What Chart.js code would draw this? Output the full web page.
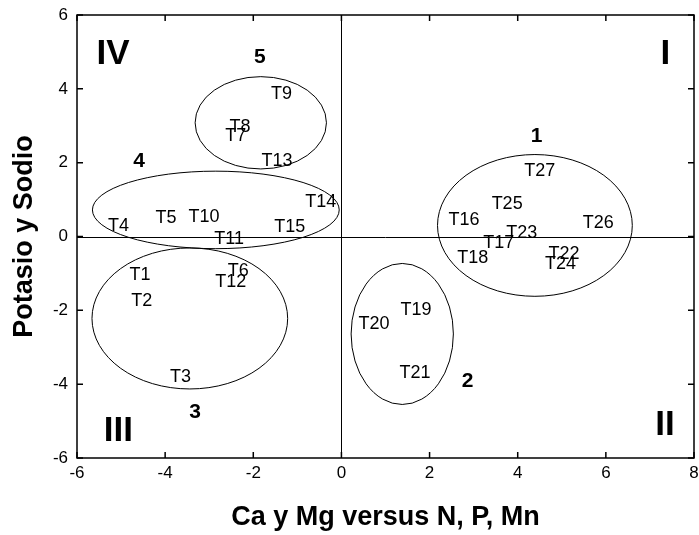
<!DOCTYPE html>
<html>
<head>
<meta charset="utf-8">
<script src="https://cdn.jsdelivr.net/npm/chart.js@4/dist/chart.umd.min.js"></script>
<style>
  html, body { margin: 0; padding: 0; background: #fff; }
  #wrap { width: 699px; height: 535px; }
</style>
</head>
<body>
<div id="wrap"><canvas id="grafico" width="699" height="535"></canvas></div>
<script>
// tratamientos (scores sobre los dos componentes)
const tratamientos = ["T1", "T2", "T3", "T4", "T5", "T6", "T7", "T8", "T9", "T10",
    "T11", "T12", "T13", "T14", "T15", "T16", "T17", "T18", "T19", "T20",
    "T21", "T22", "T23", "T24", "T25", "T26", "T27"];
const valoresX = [-4.57, -4.53, -3.65, -5.06, -3.98, -2.34, -2.40, -2.30, -1.36, -3.12,
    -2.55, -2.51, -1.46, -0.47, -1.17, 2.78, 3.57, 2.98, 1.69, 0.74,
    1.67, 5.05, 4.09, 4.97, 3.76, 5.83, 4.50];
const valoresY = [-1.01, -1.73, -3.79, 0.32, 0.52, -0.90, 2.74, 2.98, 3.88, 0.55,
    -0.04, -1.21, 2.08, 0.95, 0.28, 0.48, -0.15, -0.56, -1.96, -2.35,
    -3.68, -0.45, 0.12, -0.71, 0.91, 0.39, 1.79];

// grupos: centro y semiejes de cada elipse
const grupos = ["1", "2", "3", "4", "5"];
const grupoCentroX = [4.39, 1.38, -3.44, -2.85, -1.83];
const grupoCentroY = [0.30, -2.64, -2.22, 0.72, 3.08];
const grupoRadioX = [2.21, 1.16, 2.22, 2.80, 1.49];
const grupoRadioY = [1.92, 1.91, 1.91, 1.05, 1.25];
const grupoEtiquetaX = [4.43, 2.86, -3.32, -4.59, -1.85];
const grupoEtiquetaY = [2.74, -3.88, -4.74, 2.06, 4.88];

// cuadrantes
const cuadrantes = ["I", "II", "III", "IV"];
const cuadranteX = [7.35, 7.34, -5.06, -5.18];
const cuadranteY = [5.0, -5.07, -5.23, 5.0];

const ticksX = [-6, -4, -2, 0, 2, 4, 6, 8];
const ticksY = [-6, -4, -2, 0, 2, 4, 6];

const puntos = tratamientos.map((t, i) => ({ x: valoresX[i], y: valoresY[i] }));

const dibujoPlugin = {
    id: "dibujo",
    afterDatasetsDraw(chart) {
        const { ctx, chartArea: a, scales } = chart;
        const sx = scales.x, sy = scales.y;
        ctx.save();

        // ejes cero
        ctx.strokeStyle = "#000";
        ctx.lineWidth = 1;
        ctx.beginPath();
        const x0 = Math.round(sx.getPixelForValue(0)) + 0.5;
        const y0 = Math.round(sy.getPixelForValue(0)) + 0.5;
        ctx.moveTo(x0, a.top); ctx.lineTo(x0, a.bottom);
        ctx.moveTo(a.left, y0); ctx.lineTo(a.right, y0);
        ctx.stroke();

        // marco y marcas hacia dentro
        ctx.lineWidth = 1.5;
        ctx.strokeRect(a.left, a.top, a.right - a.left, a.bottom - a.top);
        ctx.beginPath();
        ticksX.forEach((v) => {
            const px = sx.getPixelForValue(v);
            ctx.moveTo(px, a.bottom); ctx.lineTo(px, a.bottom - 6);
            ctx.moveTo(px, a.top); ctx.lineTo(px, a.top + 6);
        });
        ticksY.forEach((v) => {
            const py = sy.getPixelForValue(v);
            ctx.moveTo(a.left, py); ctx.lineTo(a.left + 6, py);
            ctx.moveTo(a.right, py); ctx.lineTo(a.right - 6, py);
        });
        ctx.stroke();

        // elipses
        ctx.lineWidth = 1;
        grupos.forEach((g, i) => {
            const cx = sx.getPixelForValue(grupoCentroX[i]);
            const cy = sy.getPixelForValue(grupoCentroY[i]);
            const rx = Math.abs(sx.getPixelForValue(grupoCentroX[i] + grupoRadioX[i]) - cx);
            const ry = Math.abs(sy.getPixelForValue(grupoCentroY[i] + grupoRadioY[i]) - cy);
            ctx.beginPath();
            ctx.ellipse(cx, cy, rx, ry, 0, 0, Math.PI * 2);
            ctx.stroke();
        });

        ctx.fillStyle = "#000";
        ctx.textAlign = "center";
        ctx.textBaseline = "middle";

        // etiquetas de tratamientos
        ctx.font = "18px 'Liberation Sans', Arial, sans-serif";
        const meta = chart.getDatasetMeta(0);
        meta.data.forEach((el, i) => {
            ctx.fillText(tratamientos[i], el.x, el.y + 1);
        });

        // numeros de grupo
        ctx.font = "bold 21px 'Liberation Sans', Arial, sans-serif";
        grupos.forEach((g, i) => {
            ctx.fillText(g, sx.getPixelForValue(grupoEtiquetaX[i]), sy.getPixelForValue(grupoEtiquetaY[i]) + 1);
        });

        // cuadrantes
        ctx.font = "bold 35px 'Liberation Sans', Arial, sans-serif";
        cuadrantes.forEach((c, i) => {
            ctx.fillText(c, sx.getPixelForValue(cuadranteX[i]), sy.getPixelForValue(cuadranteY[i]) + 2);
        });

        ctx.restore();
    },
};

new Chart(document.getElementById("grafico").getContext("2d"), {
    type: "scatter",
    data: {
        datasets: [
            {
                label: "Tratamientos",
                data: puntos,
                pointRadius: 0,
                pointHoverRadius: 0,
            },
        ],
    },
    options: {
        responsive: false,
        animation: false,
        events: [],
        layout: { padding: { top: 15, right: 5, left: 0, bottom: 0 } },
        plugins: {
            legend: { display: false },
            tooltip: { enabled: false },
        },
        scales: {
            x: {
                type: "linear",
                min: -6,
                max: 8,
                afterBuildTicks: (s) => { s.ticks = ticksX.map((v) => ({ value: v })); },
                afterFit: (s) => { s.height = 77; s.paddingLeft = 0; s.paddingRight = 0; },
                grid: { display: false, drawTicks: false },
                border: { display: false },
                ticks: {
                    padding: 5,
                    color: "#000",
                    font: { size: 17, family: "'Liberation Sans', Arial, sans-serif" },
                },
                title: {
                    display: true,
                    text: "Ca y Mg versus N, P, Mn",
                    color: "#000",
                    padding: { top: 4, bottom: 1 },
                    font: { size: 27, weight: "bold", family: "'Liberation Sans', Arial, sans-serif" },
                },
            },
            y: {
                type: "linear",
                min: -6,
                max: 6,
                afterBuildTicks: (s) => { s.ticks = ticksY.map((v) => ({ value: v })); },
                afterFit: (s) => { s.width = 77; s.paddingTop = 0; s.paddingBottom = 0; },
                grid: { display: false, drawTicks: false },
                border: { display: false },
                ticks: {
                    padding: 9,
                    color: "#000",
                    font: { size: 17, family: "'Liberation Sans', Arial, sans-serif" },
                },
                title: {
                    display: true,
                    text: "Potasio y Sodio",
                    color: "#000",
                    padding: { top: 8, bottom: 0 },
                    font: { size: 27, weight: "bold", family: "'Liberation Sans', Arial, sans-serif" },
                },
            },
        },
    },
    plugins: [dibujoPlugin],
});
</script>
</body>
</html>
